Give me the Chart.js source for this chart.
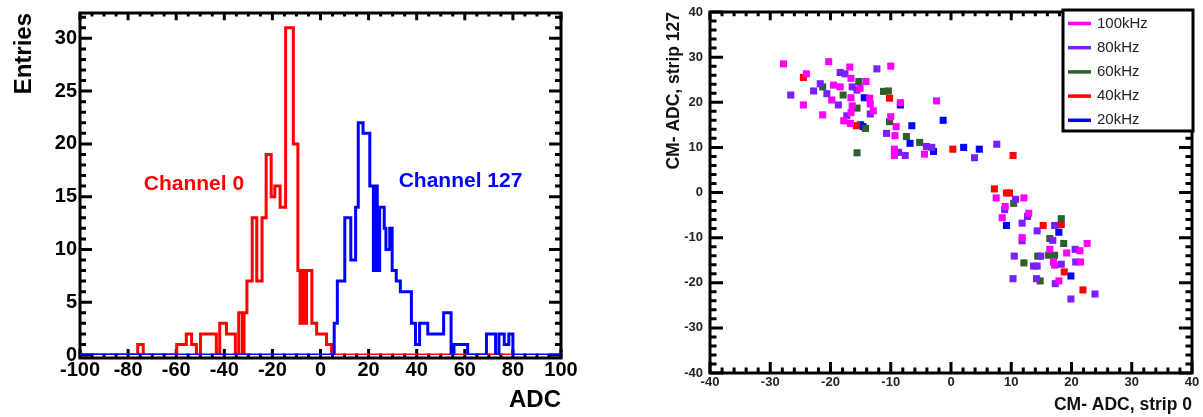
<!DOCTYPE html>
<html>
<head>
<meta charset="utf-8">
<script src="https://cdn.jsdelivr.net/npm/chart.js@4.4.0/dist/chart.umd.min.js"></script>
<style>
  html, body { margin: 0; padding: 0; background: #fff; }
  #left { position: absolute; left: 0; top: 0; width: 600px; height: 417px; }
  #right { position: absolute; left: 600px; top: 0; width: 603px; height: 417px; }
</style>
</head>
<body>
<div id="left"><canvas id="adcHist" width="600" height="417"></canvas></div>
<div id="right"><canvas id="cmScatter" width="603" height="417"></canvas></div>
<script>
// ---------- left: ADC histograms (bin start edge -> entries) ----------
const ch0Edges = [-100, -76, -73.7, -59.8, -55.8, -53.6, -51.6, -49.9, -43.3, -41.9,
  -39.1, -35.4, -34.0, -32.5, -31.8, -30.6, -28.4, -26.5, -24.3, -22.6,
  -20.5, -19.0, -16.8, -14.5, -11.3, -9.4, -8.5, -7.6, -6.7, -5.8,
  -3.6, -1.6, 2.5, 4.6, 80];
const ch0Counts = [0, 1, 0, 1, 2, 1, 0, 2, 0, 3,
  2, 0, 4, 0, 4, 7, 13, 7, 13, 19,
  15, 16, 14, 31, 20, 8, 3, 8, 3, 8,
  3, 2, 1, 0, 0];
const ch127Edges = [-100, 5.7, 7.0, 10.1, 12.6, 14.6, 15.7, 17.7, 20.5, 22.0,
  22.9, 23.6, 24.6, 26.5, 27.2, 28.8, 29.8, 31.5, 33.2, 37.8,
  39.5, 41.2, 44.6, 51.2, 54.3, 55.5, 61.2, 69.0, 72.8, 74.2,
  76.4, 78.3, 80.0, 100];
const ch127Counts = [0, 3, 7, 13, 9, 14, 22, 21, 16, 8,
  16, 8, 14, 12, 10, 12, 8, 7, 6, 3,
  1, 3, 2, 4, 0, 1, 0, 2, 0, 2,
  1, 2, 0, 0];
const adcTicks = [-100, -80, -60, -40, -20, 0, 20, 40, 60, 80, 100];
const entryTicks = [0, 5, 10, 15, 20, 25, 30];
const chanText = ["Channel 0", "Channel 127"];
const chanTextX = [-73.5, 32.5];
const chanTextY = [16.2, 16.5];
const chanColors = ["#ff0000", "#0000ff"];

// ---------- right: common-mode scatter ----------
const freqLabels = ["100kHz", "80kHz", "60kHz", "40kHz", "20kHz"];
const freqColors = ["#ff00ff", "#7a1fff", "#2d5f2d", "#ff0000", "#0000ff"];
const cm100x = [-27.8, -24.0, -24.5, -21.3, -20.3, -19.8, -19.5, -18.4, -16.8, -16.6, -15.1, -16.6, -16.4, -16.6, -17.8, -16.7, -14.1, -13.5, -13.4, -12.9, -10.0, -8.4, -10.0, -9.1, -9.3, -9.4, -9.4, -2.4, -4.4, 7.5, 12.1, 9.0, 8.5, 12.9, 11.8, 22.6, 21.4, 16.4, 19.2, 17.0, 17.2, 21.5, 17.9];
const cm100y = [28.5, 26.3, 19.4, 17.2, 29.0, 20.5, 23.8, 23.4, 27.8, 25.3, 23.1, 21.0, 19.2, 17.7, 15.9, 15.3, 24.6, 20.9, 19.6, 18.1, 28.0, 19.9, 16.8, 14.6, 12.6, 9.6, 8.2, 20.3, 8.5, -1.2, -1.2, -3.1, -5.6, -4.6, -10.0, -11.3, -12.9, -12.6, -13.4, -15.4, -16.1, -15.4, -19.6];
const cm80x = [-26.6, -22.8, -21.7, -20.6, -18.4, -17.6, -18.7, -16.4, -15.6, -17.3, -13.4, -12.3, -10.7, -8.7, -7.6, -4.1, -3.2, 3.9, 7.6, 10.7, 8.9, 12.7, 11.8, 14.3, 17.2, 11.8, 16.9, 20.6, 10.5, 14.9, 18.3, 13.7, 14.3, 20.7, 10.3, 14.2, 17.3, 23.9, 19.9];
const cm80y = [21.6, 22.5, 24.1, 21.9, 26.6, 26.3, 19.4, 23.4, 22.7, 17.0, 17.4, 27.4, 13.1, 8.9, 8.2, 10.2, 10.0, 7.7, 10.7, -1.5, -3.8, -5.3, -6.8, -8.5, -7.3, -10.7, -10.6, -12.6, -14.1, -14.1, -15.9, -16.3, -16.3, -15.4, -19.1, -19.1, -20.2, -22.5, -23.6];
const cm60x = [-21.3, -17.9, -15.3, -15.6, -14.2, -15.6, -11.2, -10.4, -10.2, -7.4, -5.2, 10.4, 18.3, 16.4, 18.7, 14.4, 16.2, 17.2, 12.1, 14.8];
const cm60y = [23.4, 21.6, 24.6, 18.7, 14.2, 8.8, 22.4, 22.5, 15.7, 12.4, 11.1, -2.4, -5.8, -10.2, -11.3, -14.1, -13.9, -13.9, -15.6, -19.6];
const cm40x = [-24.5, -15.7, -10.2, 0.3, 10.3, 7.2, 9.2, 9.7, 15.3, 18.3, 18.8, 21.9];
const cm40y = [25.5, 14.8, 20.9, 9.6, 8.2, 0.8, -0.1, -0.1, -7.3, -7.1, -17.6, -21.6];
const cm20x = [-15.0, -14.6, -14.4, -8.4, -6.5, -6.8, -1.3, -2.9, 2.1, 4.7, 9.2, 17.9, 19.9];
const cm20y = [15.0, 14.6, 21.0, 19.4, 14.8, 10.9, 16.0, 9.1, 10.0, 9.6, -7.3, -8.8, -18.5];
const cmTicks = [-40, -30, -20, -10, 0, 10, 20, 30, 40];

const fam = '"Liberation Sans", Arial, Helvetica, sans-serif';

function toSteps(edges, counts) {
  return edges.map((e, i) => ({ x: e, y: counts[i] }));
}
function toPoints(xs, ys) {
  return xs.map((v, i) => ({ x: v, y: ys[i] }));
}

// ROOT style frame with ticks pointing inward on all four sides
const frameTicks = {
  id: "frameTicks",
  beforeDatasetsDraw(chart, args, o) {
    const { ctx, chartArea: a } = chart;
    const x = chart.scales.x, y = chart.scales.y;
    const bottom = a.bottom + o.bottomShift;
    ctx.save();
    ctx.strokeStyle = "#000";
    ctx.lineWidth = o.lineWidth;
    ctx.beginPath();
    let n = Math.round((x.max - x.min) / o.xMinor);
    for (let i = 0; i <= n; i++) {
      const v = x.min + i * o.xMinor;
      const major = Math.abs(v / o.xMajor - Math.round(v / o.xMajor)) < 1e-6;
      const px = x.getPixelForValue(v);
      const len = major ? o.xLen : o.xLen / 2;
      ctx.moveTo(px, bottom); ctx.lineTo(px, bottom - len);
      ctx.moveTo(px, a.top); ctx.lineTo(px, a.top + len * o.topScale);
    }
    n = Math.floor((y.max - y.min) / o.yMinor + 1e-6);
    for (let i = 0; i <= n; i++) {
      const v = y.min + i * o.yMinor;
      const major = Math.abs(v / o.yMajor - Math.round(v / o.yMajor)) < 1e-6;
      const py = y.getPixelForValue(v);
      const len = major ? o.yLen : o.yLen / 2;
      ctx.moveTo(a.left, py); ctx.lineTo(a.left + len, py);
      ctx.moveTo(a.right, py); ctx.lineTo(a.right - len, py);
    }
    ctx.stroke();
    ctx.strokeRect(a.left, a.top, a.right - a.left, bottom - a.top);
    ctx.restore();
  }
};

const channelLabels = {
  id: "channelLabels",
  afterDatasetsDraw(chart) {
    const { ctx } = chart;
    const x = chart.scales.x, y = chart.scales.y;
    ctx.save();
    ctx.font = "bold 21px " + fam;
    ctx.textAlign = "left";
    ctx.textBaseline = "middle";
    chanText.forEach((t, i) => {
      ctx.fillStyle = chanColors[i];
      ctx.fillText(t, x.getPixelForValue(chanTextX[i]), y.getPixelForValue(chanTextY[i]));
    });
    ctx.restore();
  }
};

const freqLegend = {
  id: "freqLegend",
  afterDatasetsDraw(chart) {
    const { ctx, chartArea: a } = chart;
    const w = 130, h = 121;
    const left = a.right + 1 - w, top = a.top - 2;
    ctx.save();
    ctx.fillStyle = "#fff";
    ctx.fillRect(left, top, w, h);
    ctx.lineWidth = 3;
    ctx.strokeStyle = "#000";
    ctx.strokeRect(left, top, w, h);
    ctx.font = "15px " + fam;
    ctx.textBaseline = "middle";
    ctx.textAlign = "left";
    chart.data.datasets.forEach((ds, i) => {
      const yy = top + 13.5 + i * 24.2;
      ctx.strokeStyle = ds.backgroundColor;
      ctx.lineWidth = 3.5;
      ctx.beginPath();
      ctx.moveTo(left + 5, yy);
      ctx.lineTo(left + 28, yy);
      ctx.stroke();
      ctx.fillStyle = "#222";
      ctx.fillText(ds.label, left + 34, yy);
    });
    ctx.restore();
  }
};

try {
  new Chart(document.getElementById("adcHist"), {
    type: "line",
    data: {
      datasets: [
        {
          label: "Channel 127",
          data: toSteps(ch127Edges, ch127Counts),
          borderColor: chanColors[1],
          borderWidth: 3,
          stepped: "before",
          pointRadius: 0,
          fill: false,
        },
        {
          label: "Channel 0",
          data: toSteps(ch0Edges, ch0Counts),
          borderColor: chanColors[0],
          borderWidth: 3,
          stepped: "before",
          pointRadius: 0,
          fill: false,
        },
      ],
    },
    options: {
      responsive: false,
      animation: false,
      devicePixelRatio: 1,
      layout: { padding: { left: 0, top: 13, right: 39, bottom: 0 } },
      plugins: {
        legend: { display: false },
        tooltip: { enabled: false },
        frameTicks: { lineWidth: 3, xMajor: 20, xMinor: 5, yMajor: 5, yMinor: 1, xLen: 9, yLen: 12, bottomShift: 3, topScale: 0.8 },
      },
      scales: {
        x: {
          type: "linear",
          min: -100,
          max: 100,
          grid: { display: false, drawTicks: false },
          border: { display: false },
          afterBuildTicks: (s) => { s.ticks = adcTicks.map((v) => ({ value: v })); },
          afterFit: (s) => { s.height = 62; s.paddingLeft = 0; s.paddingRight = 0; },
          ticks: { color: "#000", font: { family: fam, size: 20, weight: "bold" }, padding: 3, maxRotation: 0, autoSkip: false },
          title: { display: true, text: "ADC", align: "end", color: "#000", font: { family: fam, size: 24, weight: "bold" }, padding: { top: 0, bottom: 2 } },
        },
        y: {
          type: "linear",
          min: 0,
          max: 32.4,
          grid: { display: false, drawTicks: false },
          border: { display: false },
          afterBuildTicks: (s) => { s.ticks = entryTicks.map((v) => ({ value: v })); },
          afterFit: (s) => { s.width = 80; s.paddingTop = 0; s.paddingBottom = 0; },
          ticks: { color: "#000", font: { family: fam, size: 20, weight: "bold" }, padding: 3, autoSkip: false },
          title: { display: true, text: "Entries", align: "end", color: "#000", font: { family: fam, size: 24, weight: "bold" }, padding: { top: 10, bottom: 0 } },
        },
      },
    },
    plugins: [frameTicks, channelLabels],
  });

  const sets = [[cm100x, cm100y], [cm80x, cm80y], [cm60x, cm60y], [cm40x, cm40y], [cm20x, cm20y]];
  new Chart(document.getElementById("cmScatter"), {
    type: "scatter",
    data: {
      datasets: sets.map((s, i) => ({
        label: freqLabels[i],
        data: toPoints(s[0], s[1]),
        backgroundColor: freqColors[i],
        borderColor: freqColors[i],
        borderWidth: 0,
        pointStyle: "rect",
        pointRadius: 5,
      })),
    },
    options: {
      responsive: false,
      animation: false,
      devicePixelRatio: 1,
      layout: { padding: { left: 0, top: 12, right: 11, bottom: 0 } },
      plugins: {
        legend: { display: false },
        tooltip: { enabled: false },
        frameTicks: { lineWidth: 3, xMajor: 10, xMinor: 2, yMajor: 10, yMinor: 2, xLen: 11, yLen: 13, bottomShift: 0, topScale: 0.75 },
      },
      scales: {
        x: {
          type: "linear",
          min: -40,
          max: 40,
          grid: { display: false, drawTicks: false },
          border: { display: false },
          afterBuildTicks: (s) => { s.ticks = cmTicks.map((v) => ({ value: v })); },
          afterFit: (s) => { s.height = 44; s.paddingLeft = 0; s.paddingRight = 0; },
          ticks: { color: "#222", font: { family: fam, size: 13, weight: "bold" }, padding: 2, maxRotation: 0, autoSkip: false },
          title: { display: true, text: "CM- ADC, strip 0", align: "end", color: "#111", font: { family: fam, size: 17.5, weight: "bold" }, padding: { top: 0, bottom: 1.5 } },
        },
        y: {
          type: "linear",
          min: -40,
          max: 40,
          grid: { display: false, drawTicks: false },
          border: { display: false },
          afterBuildTicks: (s) => { s.ticks = cmTicks.map((v) => ({ value: v })); },
          afterFit: (s) => { s.width = 110; s.paddingTop = 0; s.paddingBottom = 0; },
          ticks: { color: "#222", font: { family: fam, size: 13, weight: "bold" }, padding: 7, autoSkip: false },
          title: { display: true, text: "CM- ADC, strip 127", align: "end", color: "#111", font: { family: fam, size: 17.5, weight: "bold" }, padding: { top: 64, bottom: 0 } },
        },
      },
    },
    plugins: [frameTicks, freqLegend],
  });
} catch (e) {
  console.error(e);
}
</script>
</body>
</html>
